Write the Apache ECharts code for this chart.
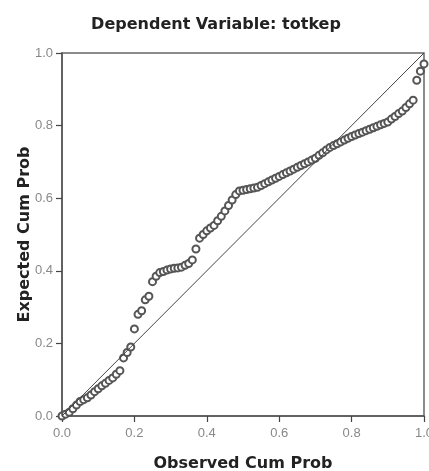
<!DOCTYPE html>
<html>
<head>
<meta charset="utf-8">
<script src="https://cdn.jsdelivr.net/npm/echarts@6/dist/echarts.min.js"></script>
<style>
  html, body { margin: 0; padding: 0; background: #fff; }
  #chart { width: 429px; height: 471px; }
</style>
</head>
<body>
<div id="chart"></div>
<script>
// observed cum prob (x) and expected cum prob (y)
var observed = [
	0.00, 0.01, 0.02, 0.03, 0.04, 0.05, 0.06, 0.07, 0.08, 0.09,
	0.10, 0.11, 0.12, 0.13, 0.14, 0.15, 0.16, 0.17, 0.18, 0.19,
	0.20, 0.21, 0.22, 0.23, 0.24, 0.25, 0.26, 0.27, 0.28, 0.29,
	0.30, 0.31, 0.32, 0.33, 0.34, 0.35, 0.36, 0.37, 0.38, 0.39,
	0.40, 0.41, 0.42, 0.43, 0.44, 0.45, 0.46, 0.47, 0.48, 0.49,
	0.50, 0.51, 0.52, 0.53, 0.54, 0.55, 0.56, 0.57, 0.58, 0.59,
	0.60, 0.61, 0.62, 0.63, 0.64, 0.65, 0.66, 0.67, 0.68, 0.69,
	0.70, 0.71, 0.72, 0.73, 0.74, 0.75, 0.76, 0.77, 0.78, 0.79,
	0.80, 0.81, 0.82, 0.83, 0.84, 0.85, 0.86, 0.87, 0.88, 0.89,
	0.90, 0.91, 0.92, 0.93, 0.94, 0.95, 0.96, 0.97, 0.98, 0.99, 1.00
];
var expected = [
	0.000, 0.005, 0.010, 0.020, 0.030, 0.040, 0.045, 0.050, 0.058, 0.067,
	0.075, 0.083, 0.090, 0.098, 0.105, 0.115, 0.125, 0.160, 0.175, 0.190,
	0.240, 0.280, 0.290, 0.320, 0.330, 0.370, 0.385, 0.395, 0.398, 0.402,
	0.405, 0.407, 0.408, 0.410, 0.415, 0.420, 0.430, 0.460, 0.490, 0.500,
	0.510, 0.518, 0.525, 0.538, 0.550, 0.565, 0.580, 0.595, 0.610, 0.620,
	0.622, 0.624, 0.626, 0.628, 0.630, 0.635, 0.640, 0.645, 0.650, 0.655,
	0.660, 0.665, 0.670, 0.675, 0.680, 0.685, 0.690, 0.695, 0.700, 0.705,
	0.710, 0.718, 0.725, 0.733, 0.740, 0.745, 0.750, 0.755, 0.760, 0.765,
	0.770, 0.774, 0.778, 0.782, 0.786, 0.790, 0.794, 0.798, 0.802, 0.806,
	0.810, 0.818, 0.825, 0.833, 0.840, 0.850, 0.860, 0.870, 0.925, 0.950, 0.970
];
// diagonal reference line ends
var refLine = [[0, 0], [1, 1]];

var points = [];
for (var i = 0; i < observed.length; i++) {
	points.push([observed[i], expected[i]]);
}

var chart = echarts.init(document.getElementById('chart'));
var font = 'DejaVu Sans, sans-serif';
var labelFont = 'Liberation Sans, Arial, sans-serif';
var option = {
	animation: false,
	title: {
		text: 'Dependent Variable: totkep',
		left: 211,
		top: 12,
		textAlign: 'center',
		textStyle: { fontFamily: font, fontSize: 16, fontWeight: 'bold', color: '#222' }
	},
	grid: {
		left: 62, right: 5, top: 53, bottom: 55,
		containLabel: false, outerBoundsMode: 'none',
		show: true, borderColor: '#666', borderWidth: 1.5, backgroundColor: 'transparent'
	},
	xAxis: {
		type: 'value', min: 0, max: 1, interval: 0.2,
		name: 'Observed Cum Prob',
		nameLocation: 'middle',
		nameGap: 40,
		nameTextStyle: { fontFamily: font, fontSize: 16, fontWeight: 'bold', color: '#222' },
		axisLine: { show: true, lineStyle: { color: '#555', width: 1.5 } },
		axisTick: { show: true, length: 6, lineStyle: { color: '#444', width: 1.2 } },
		axisLabel: {
			fontFamily: labelFont, fontSize: 13, color: '#888', margin: 11,
			formatter: function (v) { return v.toFixed(1); }
		},
		splitLine: { show: false }
	},
	yAxis: {
		type: 'value', min: 0, max: 1, interval: 0.2,
		name: 'Expected Cum Prob',
		nameLocation: 'middle',
		nameGap: 29,
		nameMoveOverlap: false,
		nameTextStyle: { fontFamily: font, fontSize: 16, fontWeight: 'bold', color: '#222' },
		axisLine: { show: true, lineStyle: { color: '#555', width: 1.5 } },
		axisTick: { show: true, length: 6, lineStyle: { color: '#444', width: 1.2 } },
		axisLabel: {
			fontFamily: labelFont, fontSize: 13, color: '#888', margin: 9,
			formatter: function (v) { return v.toFixed(1); }
		},
		splitLine: { show: false }
	},
	series: [
		{
			type: 'line',
			data: refLine,
			symbol: 'none',
			lineStyle: { color: '#444', width: 1 },
			silent: true
		},
		{
			type: 'scatter',
			data: points,
			symbol: 'emptyCircle',
			symbolSize: 7,
			itemStyle: { color: '#555', borderColor: '#555', borderWidth: 1, opacity: 1 }
		}
	]
};
chart.setOption(option);
</script>
</body>
</html>
